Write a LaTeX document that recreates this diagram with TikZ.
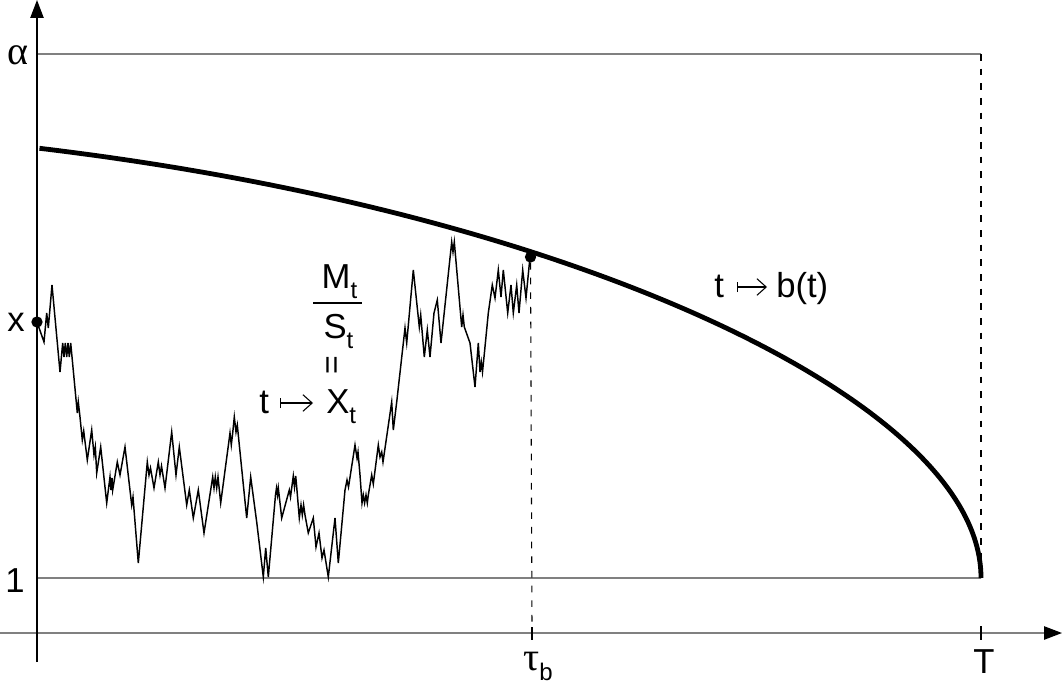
\documentclass[tikz,border=0pt]{standalone}
\usepackage{fontspec}
\setmainfont{Liberation Sans}
\newfontfamily\grk{Liberation Serif}
\usetikzlibrary{arrows.meta}
\newcommand{\lowsub}[1]{\raisebox{-7.5pt}{\fontsize{18}{18}\selectfont #1}}
\begin{document}
\begin{tikzpicture}[x=0.75pt,y=-0.75pt,
  font=\fontsize{26}{30}\selectfont,
  grayline/.style={draw=gray, line width=1.1pt},
  axisline/.style={line width=1pt},
  dashv/.style={dash pattern=on 5pt off 6pt, line width=0.8pt},
  tickline/.style={line width=0.8pt},
  boundary/.style={line width=3.6pt},
  walk/.style={line width=1.1pt, line join=miter},
  lbl/.style={inner sep=0pt},
  grklbl/.style={inner sep=0pt, font=\fontsize{30}{32}\selectfont\grk},
  mapsarrow/.style={line width=0.8pt, {Bar[width=7.5pt]}-{Straight Barb[length=7pt,width=12.5pt]}},
  dotnode/.style={circle, fill=black, inner sep=0pt, minimum size=8.5pt},
  tip/.style={-{Triangle[length=13.5pt,width=10pt,color=black]}}]
\useasboundingbox (0,0) rectangle (1062,688);

% coordinates
\coordinate (ybot) at (37,662);
\coordinate (ytop) at (37,0);
\coordinate (xl) at (0,633);
\coordinate (xr) at (1062,633);
\coordinate (a0) at (37,54);
\coordinate (aT) at (981,54);
\coordinate (one0) at (37,578);
\coordinate (oneT) at (981,578);
\coordinate (Tt) at (981,626);
\coordinate (Tb) at (981,640);
\coordinate (taut) at (532,627);
\coordinate (taub) at (532,640);

% reference lines
\draw[grayline] (a0) -- (aT);
\draw[grayline] (one0) -- (oneT);
\draw[grayline, tip] (xl) -- (xr);
\draw[axisline, tip] (ybot) -- (ytop);
\draw[dashv] (aT) -- (oneT);
\draw[tickline] (Tt) -- (Tb);

% the walk
\draw[walk] (37,322) -- (44,342) -- (46.7,313) -- (48.3,328) -- (52,285) -- (60,372) -- (62.7,343) -- (64,357) -- (65.3,343) -- (66.7,357) -- (68,343) -- (69.3,357) -- (70.7,343) -- (77.3,413) -- (78.3,402) -- (80,417) -- (82.3,440) -- (83.7,431) -- (87.3,460) -- (91.7,430) -- (94,455) -- (95.3,447) -- (96.7,473) -- (100.7,447) -- (106.7,503) -- (110,477) -- (111,490) -- (112,478) -- (112.7,490) -- (117.3,462) -- (120,475) -- (125,447) -- (131.7,505) -- (133,497) -- (138.3,563) -- (147.3,462) -- (149,475) -- (150.5,468) -- (154,488) -- (158.3,462) -- (160,475) -- (161.5,466) -- (165,488) -- (171.7,432) -- (176,475) -- (179.3,447) -- (186.7,505) -- (189.3,490) -- (193.3,518) -- (198.3,490) -- (204,533) -- (212.7,477) -- (214,488) -- (215.3,477) -- (216.7,488) -- (218,477) -- (220.7,503) -- (230,433) -- (231.3,445) -- (232.7,433) -- (234.3,417) -- (236,432) -- (237.3,425) -- (239.3,445) -- (246.7,518) -- (250.7,477) -- (256.7,522) -- (263.3,577) -- (265.7,548) -- (268.3,577) -- (275.5,495) -- (276.5,488) -- (277.5,495) -- (278.3,488) -- (281.7,518) -- (289.3,490) -- (290.5,497) -- (293.3,476) -- (294.5,487) -- (295.7,476) -- (296.7,487) -- (299.3,518) -- (301,505) -- (302.3,515) -- (303.6,505) -- (305,515) -- (308.3,533) -- (313.3,518) -- (316,547) -- (319,533) -- (322,558) -- (324,550) -- (328.3,577) -- (335,518) -- (338.3,563) -- (345,490) -- (347,480) -- (348.5,487) -- (355,445) -- (357,458) -- (358,452) -- (360,475) -- (362,503) -- (363.3,495) -- (364.6,503) -- (366,495) -- (367.3,503) -- (368.3,495) -- (371.7,475) -- (373.3,484) -- (378.3,445) -- (380,457) -- (381.7,452) -- (383,462) -- (391.7,402) -- (393.3,430) -- (396.7,402) -- (405,328) -- (406.7,343) -- (413.3,270) -- (419.3,327) -- (420.7,315) -- (424.3,357) -- (427.3,330) -- (430,357) -- (434,313) -- (437.3,300) -- (441,343) -- (451.7,242) -- (453,252) -- (454.3,242) -- (461.7,327) -- (463,315) -- (464.3,327) -- (470,343) -- (475,387) -- (478.3,343) -- (480,372) -- (481.3,362) -- (482.5,372) -- (484,357) -- (488.3,313) -- (492.3,285) -- (495,298) -- (498.3,270) -- (501,297) -- (503.3,270) -- (507.7,313) -- (511,285) -- (513.3,313) -- (516.7,285) -- (519,313) -- (522.7,270) -- (526,298) -- (530,257);

% boundary curve b(t)
\draw[boundary] plot[domain=0:1, samples=120, smooth, variable=\v]
  ({981-944*\v*\v}, {578-430*(1.0974*\v+0.093*\v*\v-0.1904*\v*\v*\v*\v)});

% dots
\node[dotnode] (x0) at (37,322) {};
\node[dotnode] (tau) at (530.5,257) {};
\draw[dashv] (tau) -- (taut);
\draw[tickline] (taut) -- (taub);

% axis labels
\node[grklbl, anchor=base] (alpha) at (18,65) {α};
\node[lbl, anchor=base] (xlab) at (16,331) {x};
\node[lbl, anchor=base] (onelab) at (15,592) {1};
\node[lbl, anchor=base] (taulab) at (538,670) {{\fontsize{30}{32}\selectfont\grk τ}\lowsub{b}};
\node[lbl, anchor=base] (Tlab) at (984,673) {T};

% t -> b(t)
\node[lbl, anchor=base west] (bt) at (714,297) {t};
\node[lbl, anchor=base west] (bb) at (776,297) {b(t)};
\coordinate (bas) at (737,287);
\coordinate (bae) at (767,287);
\draw[mapsarrow] (bas) -- (bae);

% M_t / S_t = X_t
\node[lbl, anchor=base] (Mt) at (339.5,288) {M\lowsub{t}};
\coordinate (barl) at (313,303);
\coordinate (barr) at (362,303);
\draw[line width=1pt] (barl) -- (barr);
\node[lbl, anchor=base] (St) at (338.5,338) {S\lowsub{t}};
\node[lbl, rotate=90] (eq) at (335,365) {\fontsize{24}{24}\selectfont =};
\node[lbl, anchor=base west] (Xtt) at (259,413) {t};
\node[lbl, anchor=base west] (XX) at (326,413) {X\lowsub{t}};
\coordinate (xas) at (280,403);
\coordinate (xae) at (313,403);
\draw[mapsarrow] (xas) -- (xae);
\end{tikzpicture}
\end{document}
